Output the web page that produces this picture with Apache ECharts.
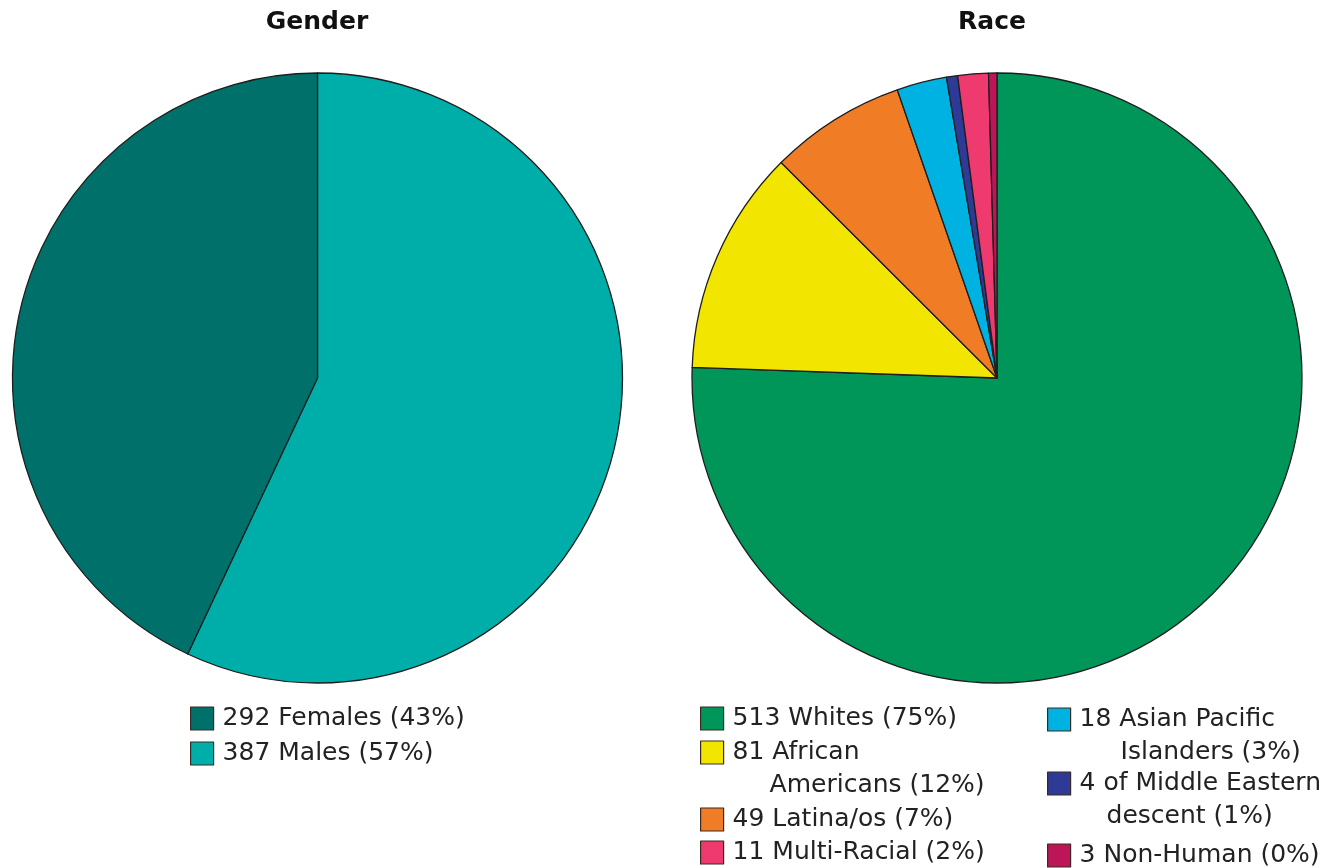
<!DOCTYPE html>
<html>
<head>
<meta charset="utf-8">
<title>Gender and Race</title>
<script src="https://cdn.jsdelivr.net/npm/echarts@6/dist/echarts.min.js"></script>
<style>
  html, body { margin: 0; padding: 0; background: #ffffff; }
  #chart { width: 1341px; height: 868px; }
</style>
</head>
<body>
<div id="chart"></div>
<script>
// ---- data ----
const genderNames = ['Females', 'Males'];
const genderCounts = [292, 387];
const genderPercents = ['43%', '57%'];
const genderColors = ['#00706b', '#00aea9'];

const raceNames = ['Whites', 'African Americans', 'Latina/os', 'Asian Pacific Islanders',
                   'of Middle Eastern descent', 'Multi-Racial', 'Non-Human'];
const raceCounts = [513, 81, 49, 18, 4, 11, 3];
const racePercents = ['75%', '12%', '7%', '3%', '1%', '2%', '0%'];
const raceColors = ['#00965a', '#f2e600', '#f07d26', '#00b2e2', '#2e3a96', '#ee3a6e', '#bc1659'];
// how each race legend entry wraps onto lines
const raceLegendLines = [
  ['Whites'], ['African', 'Americans'], ['Latina/os'], ['Asian Pacific', 'Islanders'],
  ['of Middle Eastern', 'descent'], ['Multi-Racial'], ['Non-Human']
];

// ---- layout ----
const FONT = 'DejaVu Sans';
const LH = 33;          // legend line height
const ICON = 23;        // legend swatch size
const TEXT_PAD = 4;     // extra gap between swatch and text
const PIE_R = 305;

// gender: slices clockwise from 12 o'clock are Males then Females
const genderOrder = [1, 0];
// race legend placement, in the same order as raceNames:
// column x, swatch top, indent of the wrapped line
const raceLegendPos = [
  { x: 700, y: 707, indent: 0 },    // Whites
  { x: 700, y: 741, indent: 37 },   // African Americans
  { x: 700, y: 808, indent: 0 },    // Latina/os
  { x: 1047, y: 708, indent: 41 },  // Asian Pacific Islanders
  { x: 1047, y: 772, indent: 27 },  // Middle Eastern
  { x: 700, y: 841, indent: 0 },    // Multi-Racial
  { x: 1047, y: 844, indent: 0 }    // Non-Human
];
const genderLegendPos = [
  { x: 190, y: 707 },
  { x: 190, y: 742 }
];

function legendEntry(name, lines, x, iconTop, indent) {
  const twoLine = lines.length > 1;
  const blockH = twoLine ? 3 * LH : LH;
  const top = iconTop - (blockH / 2 - ICON / 2);
  const text = twoLine
    ? '{a|' + lines[0] + '}\n{b|' + lines[1] + '}'
    : '{a|' + lines[0] + '}';
  return {
    orient: 'vertical',
    left: x,
    top: top,
    padding: 0,
    itemWidth: ICON,
    itemHeight: ICON,
    icon: 'rect',
    selectedMode: false,
    data: [name],
    formatter: () => text,
    itemStyle: { borderColor: '#3a2b22', borderWidth: 1.2 },
    textStyle: {
      fontFamily: FONT,
      fontSize: 25,
      color: '#222',
      lineHeight: LH,
      padding: twoLine ? [LH, 0, 0, 0] : 0,
      rich: {
        a: { fontFamily: FONT, fontSize: 25, color: '#222', lineHeight: LH, padding: [0, 0, 0, TEXT_PAD] },
        b: { fontFamily: FONT, fontSize: 25, color: '#222', lineHeight: LH, padding: [0, 0, 0, TEXT_PAD + (indent || 0)] }
      }
    }
  };
}

const legends = [];
genderNames.forEach((n, i) => {
  const line = genderCounts[i] + ' ' + n + ' (' + genderPercents[i] + ')';
  legends.push(legendEntry(n, [line], genderLegendPos[i].x, genderLegendPos[i].y, 0));
});
raceNames.forEach((n, i) => {
  const parts = raceLegendLines[i];
  let lines;
  if (parts.length > 1) {
    lines = [raceCounts[i] + ' ' + parts[0], parts[1] + ' (' + racePercents[i] + ')'];
  } else {
    lines = [raceCounts[i] + ' ' + parts[0] + ' (' + racePercents[i] + ')'];
  }
  const p = raceLegendPos[i];
  legends.push(legendEntry(n, lines, p.x, p.y, p.indent));
});

const sliceBorder = { borderColor: '#1e1e1e', borderWidth: 1.3 };

const option = {
  animation: false,
  backgroundColor: '#ffffff',
  title: [
    { text: 'Gender', left: 317, top: 10, textAlign: 'center', padding: 0,
      textStyle: { fontFamily: FONT, fontSize: 25, fontWeight: 'bold', color: '#111' } },
    { text: 'Race', left: 992, top: 10, textAlign: 'center', padding: 0,
      textStyle: { fontFamily: FONT, fontSize: 25, fontWeight: 'bold', color: '#111' } }
  ],
  legend: legends,
  series: [
    {
      name: 'Gender',
      type: 'pie',
      center: [317.5, 378],
      radius: PIE_R,
      startAngle: 90,
      clockwise: true,
      label: { show: false },
      labelLine: { show: false },
      emphasis: { disabled: true },
      itemStyle: sliceBorder,
      data: genderOrder.map(i => ({
        name: genderNames[i],
        value: genderCounts[i],
        itemStyle: { color: genderColors[i] }
      }))
    },
    {
      name: 'Race',
      type: 'pie',
      center: [997, 378],
      radius: PIE_R,
      startAngle: 90,
      clockwise: true,
      label: { show: false },
      labelLine: { show: false },
      emphasis: { disabled: true },
      itemStyle: sliceBorder,
      data: raceNames.map((n, i) => ({
        name: n,
        value: raceCounts[i],
        itemStyle: { color: raceColors[i] }
      }))
    }
  ]
};

const chart = echarts.init(document.getElementById('chart'), null, { renderer: 'canvas' });
chart.setOption(option);
</script>
</body>
</html>
